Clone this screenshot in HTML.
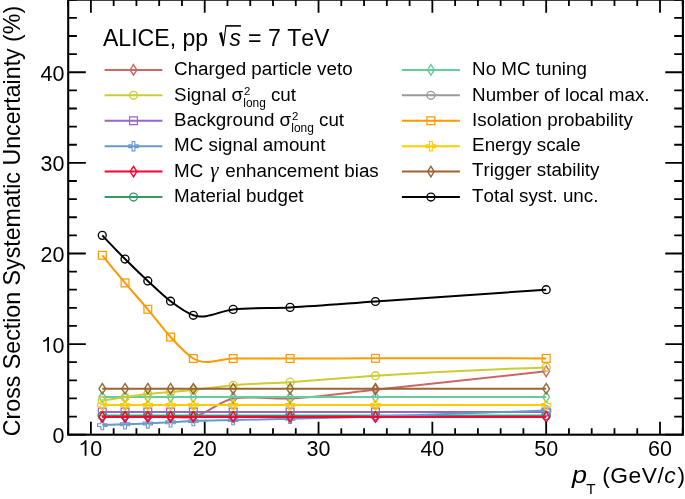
<!DOCTYPE html>
<html><head><meta charset="utf-8"><style>
html,body{margin:0;padding:0;background:#fff;}
svg{display:block;will-change:transform;font-family:"Liberation Sans",sans-serif;font-kerning:none;}
</style></head><body>
<svg width="685" height="499" viewBox="0 0 685 499">
<rect width="685" height="499" fill="#fff"/>
<path d="M102.28,415.67 C109.87,415.67 117.46,415.67 125.05,415.67 C132.63,415.67 140.22,415.67 147.81,415.67 C155.40,415.67 162.99,415.67 170.57,415.67 C178.16,415.67 185.75,415.67 193.34,415.67 C206.62,415.67 219.90,415.67 233.18,415.67 C252.15,415.67 271.12,415.67 290.09,415.67 C318.54,415.67 347.00,415.67 375.45,415.67 C432.36,415.67 489.27,415.67 546.18,415.67" fill="none" stroke="#999999" stroke-width="2"/>
<circle cx="102.28" cy="415.67" r="3.95" fill="none" stroke="#999999" stroke-width="1.35"/>
<circle cx="125.05" cy="415.67" r="3.95" fill="none" stroke="#999999" stroke-width="1.35"/>
<circle cx="147.81" cy="415.67" r="3.95" fill="none" stroke="#999999" stroke-width="1.35"/>
<circle cx="170.57" cy="415.67" r="3.95" fill="none" stroke="#999999" stroke-width="1.35"/>
<circle cx="193.34" cy="415.67" r="3.95" fill="none" stroke="#999999" stroke-width="1.35"/>
<circle cx="233.18" cy="415.67" r="3.95" fill="none" stroke="#999999" stroke-width="1.35"/>
<circle cx="290.09" cy="415.67" r="3.95" fill="none" stroke="#999999" stroke-width="1.35"/>
<circle cx="375.45" cy="415.67" r="3.95" fill="none" stroke="#999999" stroke-width="1.35"/>
<circle cx="546.18" cy="415.67" r="3.95" fill="none" stroke="#999999" stroke-width="1.35"/>
<path d="M102.28,416.90 C109.87,416.90 117.46,416.90 125.05,416.90 C132.63,416.90 140.22,416.90 147.81,416.90 C155.40,416.90 162.99,416.90 170.57,416.90 C178.16,416.90 185.75,418.17 193.34,416.90 C206.62,414.66 219.90,400.57 233.18,398.46 C252.15,395.44 271.12,399.22 290.09,398.46 C318.54,397.31 347.00,392.79 375.45,389.85 C432.36,383.96 489.27,377.77 546.18,371.27" fill="none" stroke="#cc6666" stroke-width="2"/>
<path d="M102.28,411.60 L105.63,416.90 L102.28,422.20 L98.93,416.90 Z" fill="none" stroke="#cc6666" stroke-width="1.4"/>
<path d="M125.05,411.60 L128.40,416.90 L125.05,422.20 L121.70,416.90 Z" fill="none" stroke="#cc6666" stroke-width="1.4"/>
<path d="M147.81,411.60 L151.16,416.90 L147.81,422.20 L144.46,416.90 Z" fill="none" stroke="#cc6666" stroke-width="1.4"/>
<path d="M170.57,411.60 L173.92,416.90 L170.57,422.20 L167.22,416.90 Z" fill="none" stroke="#cc6666" stroke-width="1.4"/>
<path d="M193.34,411.60 L196.69,416.90 L193.34,422.20 L189.99,416.90 Z" fill="none" stroke="#cc6666" stroke-width="1.4"/>
<path d="M233.18,393.16 L236.53,398.46 L233.18,403.76 L229.83,398.46 Z" fill="none" stroke="#cc6666" stroke-width="1.4"/>
<path d="M290.09,393.16 L293.44,398.46 L290.09,403.76 L286.74,398.46 Z" fill="none" stroke="#cc6666" stroke-width="1.4"/>
<path d="M375.45,384.55 L378.80,389.85 L375.45,395.15 L372.10,389.85 Z" fill="none" stroke="#cc6666" stroke-width="1.4"/>
<path d="M546.18,365.97 L549.53,371.27 L546.18,376.57 L542.83,371.27 Z" fill="none" stroke="#cc6666" stroke-width="1.4"/>
<path d="M102.28,397.10 C109.87,397.10 117.46,397.10 125.05,397.10 C132.63,397.10 140.22,397.10 147.81,397.10 C155.40,397.10 162.99,397.10 170.57,397.10 C178.16,397.10 185.75,397.10 193.34,397.10 C206.62,397.10 219.90,397.10 233.18,397.10 C252.15,397.10 271.12,397.10 290.09,397.10 C318.54,397.10 347.00,397.10 375.45,397.10 C432.36,397.10 489.27,397.10 546.18,397.10" fill="none" stroke="#66cc99" stroke-width="2"/>
<path d="M102.28,391.80 L105.63,397.10 L102.28,402.40 L98.93,397.10 Z" fill="none" stroke="#66cc99" stroke-width="1.4"/>
<path d="M125.05,391.80 L128.40,397.10 L125.05,402.40 L121.70,397.10 Z" fill="none" stroke="#66cc99" stroke-width="1.4"/>
<path d="M147.81,391.80 L151.16,397.10 L147.81,402.40 L144.46,397.10 Z" fill="none" stroke="#66cc99" stroke-width="1.4"/>
<path d="M170.57,391.80 L173.92,397.10 L170.57,402.40 L167.22,397.10 Z" fill="none" stroke="#66cc99" stroke-width="1.4"/>
<path d="M193.34,391.80 L196.69,397.10 L193.34,402.40 L189.99,397.10 Z" fill="none" stroke="#66cc99" stroke-width="1.4"/>
<path d="M233.18,391.80 L236.53,397.10 L233.18,402.40 L229.83,397.10 Z" fill="none" stroke="#66cc99" stroke-width="1.4"/>
<path d="M290.09,391.80 L293.44,397.10 L290.09,402.40 L286.74,397.10 Z" fill="none" stroke="#66cc99" stroke-width="1.4"/>
<path d="M375.45,391.80 L378.80,397.10 L375.45,402.40 L372.10,397.10 Z" fill="none" stroke="#66cc99" stroke-width="1.4"/>
<path d="M546.18,391.80 L549.53,397.10 L546.18,402.40 L542.83,397.10 Z" fill="none" stroke="#66cc99" stroke-width="1.4"/>
<path d="M102.28,400.45 C109.87,399.36 117.46,398.27 125.05,397.19 C132.63,396.10 140.22,394.79 147.81,393.93 C155.40,393.06 162.99,392.69 170.57,392.02 C178.16,391.36 185.75,390.70 193.34,389.94 C206.62,388.60 219.90,386.53 233.18,385.32 C252.15,383.59 271.12,383.35 290.09,382.15 C318.54,380.34 347.00,377.61 375.45,375.71 C432.36,371.93 489.27,369.15 546.18,367.38" fill="none" stroke="#cccc33" stroke-width="2"/>
<circle cx="102.28" cy="400.45" r="3.95" fill="none" stroke="#cccc33" stroke-width="1.35"/>
<circle cx="125.05" cy="397.19" r="3.95" fill="none" stroke="#cccc33" stroke-width="1.35"/>
<circle cx="147.81" cy="393.93" r="3.95" fill="none" stroke="#cccc33" stroke-width="1.35"/>
<circle cx="170.57" cy="392.02" r="3.95" fill="none" stroke="#cccc33" stroke-width="1.35"/>
<circle cx="193.34" cy="389.94" r="3.95" fill="none" stroke="#cccc33" stroke-width="1.35"/>
<circle cx="233.18" cy="385.32" r="3.95" fill="none" stroke="#cccc33" stroke-width="1.35"/>
<circle cx="290.09" cy="382.15" r="3.95" fill="none" stroke="#cccc33" stroke-width="1.35"/>
<circle cx="375.45" cy="375.71" r="3.95" fill="none" stroke="#cccc33" stroke-width="1.35"/>
<circle cx="546.18" cy="367.38" r="3.95" fill="none" stroke="#cccc33" stroke-width="1.35"/>
<path d="M102.28,412.00 C109.87,412.00 117.46,412.00 125.05,412.00 C132.63,412.00 140.22,412.00 147.81,412.00 C155.40,412.00 162.99,412.00 170.57,412.00 C178.16,412.00 185.75,412.00 193.34,412.00 C206.62,412.00 219.90,412.00 233.18,412.00 C252.15,412.00 271.12,412.00 290.09,412.00 C318.54,412.00 347.00,412.00 375.45,412.00 C432.36,412.00 489.27,412.00 546.18,412.00" fill="none" stroke="#9966cc" stroke-width="2"/>
<rect x="98.38" y="408.10" width="7.8" height="7.8" fill="none" stroke="#9966cc" stroke-width="1.25"/>
<rect x="121.15" y="408.10" width="7.8" height="7.8" fill="none" stroke="#9966cc" stroke-width="1.25"/>
<rect x="143.91" y="408.10" width="7.8" height="7.8" fill="none" stroke="#9966cc" stroke-width="1.25"/>
<rect x="166.67" y="408.10" width="7.8" height="7.8" fill="none" stroke="#9966cc" stroke-width="1.25"/>
<rect x="189.44" y="408.10" width="7.8" height="7.8" fill="none" stroke="#9966cc" stroke-width="1.25"/>
<rect x="229.28" y="408.10" width="7.8" height="7.8" fill="none" stroke="#9966cc" stroke-width="1.25"/>
<rect x="286.19" y="408.10" width="7.8" height="7.8" fill="none" stroke="#9966cc" stroke-width="1.25"/>
<rect x="371.55" y="408.10" width="7.8" height="7.8" fill="none" stroke="#9966cc" stroke-width="1.25"/>
<rect x="542.28" y="408.10" width="7.8" height="7.8" fill="none" stroke="#9966cc" stroke-width="1.25"/>
<path d="M102.28,415.67 C109.87,415.67 117.46,415.67 125.05,415.67 C132.63,415.67 140.22,415.67 147.81,415.67 C155.40,415.67 162.99,415.67 170.57,415.67 C178.16,415.67 185.75,415.67 193.34,415.67 C206.62,415.67 219.90,415.67 233.18,415.67 C252.15,415.67 271.12,415.67 290.09,415.67 C318.54,415.67 347.00,415.67 375.45,415.67 C432.36,415.67 489.27,415.67 546.18,415.67" fill="none" stroke="#339966" stroke-width="2"/>
<circle cx="102.28" cy="415.67" r="3.95" fill="none" stroke="#339966" stroke-width="1.35"/>
<circle cx="125.05" cy="415.67" r="3.95" fill="none" stroke="#339966" stroke-width="1.35"/>
<circle cx="147.81" cy="415.67" r="3.95" fill="none" stroke="#339966" stroke-width="1.35"/>
<circle cx="170.57" cy="415.67" r="3.95" fill="none" stroke="#339966" stroke-width="1.35"/>
<circle cx="193.34" cy="415.67" r="3.95" fill="none" stroke="#339966" stroke-width="1.35"/>
<circle cx="233.18" cy="415.67" r="3.95" fill="none" stroke="#339966" stroke-width="1.35"/>
<circle cx="290.09" cy="415.67" r="3.95" fill="none" stroke="#339966" stroke-width="1.35"/>
<circle cx="375.45" cy="415.67" r="3.95" fill="none" stroke="#339966" stroke-width="1.35"/>
<circle cx="546.18" cy="415.67" r="3.95" fill="none" stroke="#339966" stroke-width="1.35"/>
<path d="M102.28,425.10 C109.87,424.82 117.46,424.55 125.05,424.28 C132.63,424.01 140.22,423.80 147.81,423.46 C155.40,423.13 162.99,422.68 170.57,422.29 C178.16,421.89 185.75,421.43 193.34,421.11 C206.62,420.55 219.90,420.43 233.18,420.11 C252.15,419.66 271.12,419.30 290.09,418.84 C318.54,418.16 347.00,417.41 375.45,416.58 C432.36,414.91 489.27,412.91 546.18,410.60" fill="none" stroke="#6699cc" stroke-width="2"/>
<path d="M100.88,420.40 L103.68,420.40 L103.68,423.70 L106.98,423.70 L106.98,426.50 L103.68,426.50 L103.68,429.80 L100.88,429.80 L100.88,426.50 L97.58,426.50 L97.58,423.70 L100.88,423.70 Z" fill="none" stroke="#6699cc" stroke-width="1.1"/>
<path d="M123.65,419.58 L126.45,419.58 L126.45,422.88 L129.75,422.88 L129.75,425.68 L126.45,425.68 L126.45,428.98 L123.65,428.98 L123.65,425.68 L120.35,425.68 L120.35,422.88 L123.65,422.88 Z" fill="none" stroke="#6699cc" stroke-width="1.1"/>
<path d="M146.41,418.76 L149.21,418.76 L149.21,422.06 L152.51,422.06 L152.51,424.86 L149.21,424.86 L149.21,428.16 L146.41,428.16 L146.41,424.86 L143.11,424.86 L143.11,422.06 L146.41,422.06 Z" fill="none" stroke="#6699cc" stroke-width="1.1"/>
<path d="M169.17,417.59 L171.97,417.59 L171.97,420.89 L175.27,420.89 L175.27,423.69 L171.97,423.69 L171.97,426.99 L169.17,426.99 L169.17,423.69 L165.87,423.69 L165.87,420.89 L169.17,420.89 Z" fill="none" stroke="#6699cc" stroke-width="1.1"/>
<path d="M191.94,416.41 L194.74,416.41 L194.74,419.71 L198.04,419.71 L198.04,422.51 L194.74,422.51 L194.74,425.81 L191.94,425.81 L191.94,422.51 L188.64,422.51 L188.64,419.71 L191.94,419.71 Z" fill="none" stroke="#6699cc" stroke-width="1.1"/>
<path d="M231.78,415.41 L234.58,415.41 L234.58,418.71 L237.88,418.71 L237.88,421.51 L234.58,421.51 L234.58,424.81 L231.78,424.81 L231.78,421.51 L228.48,421.51 L228.48,418.71 L231.78,418.71 Z" fill="none" stroke="#6699cc" stroke-width="1.1"/>
<path d="M288.69,414.14 L291.49,414.14 L291.49,417.44 L294.79,417.44 L294.79,420.24 L291.49,420.24 L291.49,423.54 L288.69,423.54 L288.69,420.24 L285.39,420.24 L285.39,417.44 L288.69,417.44 Z" fill="none" stroke="#6699cc" stroke-width="1.1"/>
<path d="M374.05,411.88 L376.85,411.88 L376.85,415.18 L380.15,415.18 L380.15,417.98 L376.85,417.98 L376.85,421.28 L374.05,421.28 L374.05,417.98 L370.75,417.98 L370.75,415.18 L374.05,415.18 Z" fill="none" stroke="#6699cc" stroke-width="1.1"/>
<path d="M544.78,405.90 L547.58,405.90 L547.58,409.20 L550.88,409.20 L550.88,412.00 L547.58,412.00 L547.58,415.30 L544.78,415.30 L544.78,412.00 L541.48,412.00 L541.48,409.20 L544.78,409.20 Z" fill="none" stroke="#6699cc" stroke-width="1.1"/>
<path d="M102.28,416.90 C109.87,416.90 117.46,416.90 125.05,416.90 C132.63,416.90 140.22,416.90 147.81,416.90 C155.40,416.90 162.99,416.90 170.57,416.90 C178.16,416.90 185.75,416.90 193.34,416.90 C206.62,416.90 219.90,416.90 233.18,416.90 C252.15,416.90 271.12,416.90 290.09,416.90 C318.54,416.90 347.00,416.90 375.45,416.90 C432.36,416.90 489.27,416.90 546.18,416.90" fill="none" stroke="#ff0033" stroke-width="2"/>
<path d="M102.28,411.60 L105.63,416.90 L102.28,422.20 L98.93,416.90 Z" fill="none" stroke="#ff0033" stroke-width="1.4"/>
<path d="M125.05,411.60 L128.40,416.90 L125.05,422.20 L121.70,416.90 Z" fill="none" stroke="#ff0033" stroke-width="1.4"/>
<path d="M147.81,411.60 L151.16,416.90 L147.81,422.20 L144.46,416.90 Z" fill="none" stroke="#ff0033" stroke-width="1.4"/>
<path d="M170.57,411.60 L173.92,416.90 L170.57,422.20 L167.22,416.90 Z" fill="none" stroke="#ff0033" stroke-width="1.4"/>
<path d="M193.34,411.60 L196.69,416.90 L193.34,422.20 L189.99,416.90 Z" fill="none" stroke="#ff0033" stroke-width="1.4"/>
<path d="M233.18,411.60 L236.53,416.90 L233.18,422.20 L229.83,416.90 Z" fill="none" stroke="#ff0033" stroke-width="1.4"/>
<path d="M290.09,411.60 L293.44,416.90 L290.09,422.20 L286.74,416.90 Z" fill="none" stroke="#ff0033" stroke-width="1.4"/>
<path d="M375.45,411.60 L378.80,416.90 L375.45,422.20 L372.10,416.90 Z" fill="none" stroke="#ff0033" stroke-width="1.4"/>
<path d="M546.18,411.60 L549.53,416.90 L546.18,422.20 L542.83,416.90 Z" fill="none" stroke="#ff0033" stroke-width="1.4"/>
<path d="M102.28,255.29 C109.87,264.72 117.46,273.93 125.05,282.93 C132.63,291.93 140.22,300.28 147.81,309.30 C155.40,318.31 162.99,328.82 170.57,337.02 C178.16,345.22 185.75,353.94 193.34,358.50 C206.62,366.47 219.90,358.50 233.18,358.50 C252.15,358.50 271.12,358.51 290.09,358.50 C318.54,358.47 347.00,358.35 375.45,358.32 C432.36,358.25 489.27,358.28 546.18,358.41" fill="none" stroke="#ff9900" stroke-width="2"/>
<rect x="98.38" y="251.39" width="7.8" height="7.8" fill="none" stroke="#ff9900" stroke-width="1.25"/>
<rect x="121.15" y="279.03" width="7.8" height="7.8" fill="none" stroke="#ff9900" stroke-width="1.25"/>
<rect x="143.91" y="305.40" width="7.8" height="7.8" fill="none" stroke="#ff9900" stroke-width="1.25"/>
<rect x="166.67" y="333.12" width="7.8" height="7.8" fill="none" stroke="#ff9900" stroke-width="1.25"/>
<rect x="189.44" y="354.60" width="7.8" height="7.8" fill="none" stroke="#ff9900" stroke-width="1.25"/>
<rect x="229.28" y="354.60" width="7.8" height="7.8" fill="none" stroke="#ff9900" stroke-width="1.25"/>
<rect x="286.19" y="354.60" width="7.8" height="7.8" fill="none" stroke="#ff9900" stroke-width="1.25"/>
<rect x="371.55" y="354.42" width="7.8" height="7.8" fill="none" stroke="#ff9900" stroke-width="1.25"/>
<rect x="542.28" y="354.51" width="7.8" height="7.8" fill="none" stroke="#ff9900" stroke-width="1.25"/>
<path d="M102.28,404.89 C109.87,404.89 117.46,404.89 125.05,404.89 C132.63,404.89 140.22,404.89 147.81,404.89 C155.40,404.89 162.99,404.89 170.57,404.89 C178.16,404.89 185.75,404.89 193.34,404.89 C206.62,404.89 219.90,404.89 233.18,404.89 C252.15,404.89 271.12,404.89 290.09,404.89 C318.54,404.89 347.00,404.89 375.45,404.89 C432.36,404.89 489.27,404.89 546.18,404.89" fill="none" stroke="#ffcc00" stroke-width="2"/>
<path d="M100.88,400.19 L103.68,400.19 L103.68,403.49 L106.98,403.49 L106.98,406.29 L103.68,406.29 L103.68,409.59 L100.88,409.59 L100.88,406.29 L97.58,406.29 L97.58,403.49 L100.88,403.49 Z" fill="none" stroke="#ffcc00" stroke-width="1.1"/>
<path d="M123.65,400.19 L126.45,400.19 L126.45,403.49 L129.75,403.49 L129.75,406.29 L126.45,406.29 L126.45,409.59 L123.65,409.59 L123.65,406.29 L120.35,406.29 L120.35,403.49 L123.65,403.49 Z" fill="none" stroke="#ffcc00" stroke-width="1.1"/>
<path d="M146.41,400.19 L149.21,400.19 L149.21,403.49 L152.51,403.49 L152.51,406.29 L149.21,406.29 L149.21,409.59 L146.41,409.59 L146.41,406.29 L143.11,406.29 L143.11,403.49 L146.41,403.49 Z" fill="none" stroke="#ffcc00" stroke-width="1.1"/>
<path d="M169.17,400.19 L171.97,400.19 L171.97,403.49 L175.27,403.49 L175.27,406.29 L171.97,406.29 L171.97,409.59 L169.17,409.59 L169.17,406.29 L165.87,406.29 L165.87,403.49 L169.17,403.49 Z" fill="none" stroke="#ffcc00" stroke-width="1.1"/>
<path d="M191.94,400.19 L194.74,400.19 L194.74,403.49 L198.04,403.49 L198.04,406.29 L194.74,406.29 L194.74,409.59 L191.94,409.59 L191.94,406.29 L188.64,406.29 L188.64,403.49 L191.94,403.49 Z" fill="none" stroke="#ffcc00" stroke-width="1.1"/>
<path d="M231.78,400.19 L234.58,400.19 L234.58,403.49 L237.88,403.49 L237.88,406.29 L234.58,406.29 L234.58,409.59 L231.78,409.59 L231.78,406.29 L228.48,406.29 L228.48,403.49 L231.78,403.49 Z" fill="none" stroke="#ffcc00" stroke-width="1.1"/>
<path d="M288.69,400.19 L291.49,400.19 L291.49,403.49 L294.79,403.49 L294.79,406.29 L291.49,406.29 L291.49,409.59 L288.69,409.59 L288.69,406.29 L285.39,406.29 L285.39,403.49 L288.69,403.49 Z" fill="none" stroke="#ffcc00" stroke-width="1.1"/>
<path d="M374.05,400.19 L376.85,400.19 L376.85,403.49 L380.15,403.49 L380.15,406.29 L376.85,406.29 L376.85,409.59 L374.05,409.59 L374.05,406.29 L370.75,406.29 L370.75,403.49 L374.05,403.49 Z" fill="none" stroke="#ffcc00" stroke-width="1.1"/>
<path d="M544.78,400.19 L547.58,400.19 L547.58,403.49 L550.88,403.49 L550.88,406.29 L547.58,406.29 L547.58,409.59 L544.78,409.59 L544.78,406.29 L541.48,406.29 L541.48,403.49 L544.78,403.49 Z" fill="none" stroke="#ffcc00" stroke-width="1.1"/>
<path d="M102.28,388.76 C109.87,388.76 117.46,388.76 125.05,388.76 C132.63,388.76 140.22,388.76 147.81,388.76 C155.40,388.76 162.99,388.76 170.57,388.76 C178.16,388.76 185.75,388.76 193.34,388.76 C206.62,388.76 219.90,388.76 233.18,388.76 C252.15,388.76 271.12,388.76 290.09,388.76 C318.54,388.76 347.00,388.76 375.45,388.76 C432.36,388.76 489.27,388.76 546.18,388.76" fill="none" stroke="#996633" stroke-width="2"/>
<path d="M102.28,383.46 L105.63,388.76 L102.28,394.06 L98.93,388.76 Z" fill="none" stroke="#996633" stroke-width="1.4"/>
<path d="M125.05,383.46 L128.40,388.76 L125.05,394.06 L121.70,388.76 Z" fill="none" stroke="#996633" stroke-width="1.4"/>
<path d="M147.81,383.46 L151.16,388.76 L147.81,394.06 L144.46,388.76 Z" fill="none" stroke="#996633" stroke-width="1.4"/>
<path d="M170.57,383.46 L173.92,388.76 L170.57,394.06 L167.22,388.76 Z" fill="none" stroke="#996633" stroke-width="1.4"/>
<path d="M193.34,383.46 L196.69,388.76 L193.34,394.06 L189.99,388.76 Z" fill="none" stroke="#996633" stroke-width="1.4"/>
<path d="M233.18,383.46 L236.53,388.76 L233.18,394.06 L229.83,388.76 Z" fill="none" stroke="#996633" stroke-width="1.4"/>
<path d="M290.09,383.46 L293.44,388.76 L290.09,394.06 L286.74,388.76 Z" fill="none" stroke="#996633" stroke-width="1.4"/>
<path d="M375.45,383.46 L378.80,388.76 L375.45,394.06 L372.10,388.76 Z" fill="none" stroke="#996633" stroke-width="1.4"/>
<path d="M546.18,383.46 L549.53,388.76 L546.18,394.06 L542.83,388.76 Z" fill="none" stroke="#996633" stroke-width="1.4"/>
<path d="M102.28,235.36 C109.87,243.53 117.46,251.41 125.05,259.01 C132.63,266.60 140.22,273.90 147.81,280.93 C155.40,287.97 162.99,295.51 170.57,301.23 C178.16,306.96 185.75,312.70 193.34,315.28 C206.62,319.78 219.90,310.73 233.18,309.39 C252.15,307.46 271.12,308.32 290.09,307.39 C318.54,306.01 347.00,303.47 375.45,301.50 C432.36,297.58 489.27,293.65 546.18,289.72" fill="none" stroke="#000000" stroke-width="2"/>
<circle cx="102.28" cy="235.36" r="3.95" fill="none" stroke="#000000" stroke-width="1.35"/>
<circle cx="125.05" cy="259.01" r="3.95" fill="none" stroke="#000000" stroke-width="1.35"/>
<circle cx="147.81" cy="280.93" r="3.95" fill="none" stroke="#000000" stroke-width="1.35"/>
<circle cx="170.57" cy="301.23" r="3.95" fill="none" stroke="#000000" stroke-width="1.35"/>
<circle cx="193.34" cy="315.28" r="3.95" fill="none" stroke="#000000" stroke-width="1.35"/>
<circle cx="233.18" cy="309.39" r="3.95" fill="none" stroke="#000000" stroke-width="1.35"/>
<circle cx="290.09" cy="307.39" r="3.95" fill="none" stroke="#000000" stroke-width="1.35"/>
<circle cx="375.45" cy="301.50" r="3.95" fill="none" stroke="#000000" stroke-width="1.35"/>
<circle cx="546.18" cy="289.72" r="3.95" fill="none" stroke="#000000" stroke-width="1.35"/>
<rect x="68.2" y="-0.3" width="614.7" height="435.0" fill="none" stroke="#000" stroke-width="2.1"/>
<path d="M68.14,434.70V428.30 M68.14,-0.30V6.10 M90.90,434.70V421.70 M90.90,-0.30V12.70 M113.66,434.70V428.30 M113.66,-0.30V6.10 M136.43,434.70V428.30 M136.43,-0.30V6.10 M159.19,434.70V428.30 M159.19,-0.30V6.10 M181.96,434.70V428.30 M181.96,-0.30V6.10 M204.72,434.70V421.70 M204.72,-0.30V12.70 M227.48,434.70V428.30 M227.48,-0.30V6.10 M250.25,434.70V428.30 M250.25,-0.30V6.10 M273.01,434.70V428.30 M273.01,-0.30V6.10 M295.78,434.70V428.30 M295.78,-0.30V6.10 M318.54,434.70V421.70 M318.54,-0.30V12.70 M341.30,434.70V428.30 M341.30,-0.30V6.10 M364.07,434.70V428.30 M364.07,-0.30V6.10 M386.83,434.70V428.30 M386.83,-0.30V6.10 M409.60,434.70V428.30 M409.60,-0.30V6.10 M432.36,434.70V421.70 M432.36,-0.30V12.70 M455.12,434.70V428.30 M455.12,-0.30V6.10 M477.89,434.70V428.30 M477.89,-0.30V6.10 M500.65,434.70V428.30 M500.65,-0.30V6.10 M523.42,434.70V428.30 M523.42,-0.30V6.10 M546.18,434.70V421.70 M546.18,-0.30V12.70 M568.94,434.70V428.30 M568.94,-0.30V6.10 M591.71,434.70V428.30 M591.71,-0.30V6.10 M614.47,434.70V428.30 M614.47,-0.30V6.10 M637.24,434.70V428.30 M637.24,-0.30V6.10 M660.00,434.70V421.70 M660.00,-0.30V12.70 M682.76,434.70V428.30 M682.76,-0.30V6.10 M68.20,434.70H85.80 M682.90,434.70H665.30 M68.20,416.58H76.90 M682.90,416.58H674.20 M68.20,398.46H76.90 M682.90,398.46H674.20 M68.20,380.33H76.90 M682.90,380.33H674.20 M68.20,362.21H76.90 M682.90,362.21H674.20 M68.20,344.09H85.80 M682.90,344.09H665.30 M68.20,325.97H76.90 M682.90,325.97H674.20 M68.20,307.85H76.90 M682.90,307.85H674.20 M68.20,289.72H76.90 M682.90,289.72H674.20 M68.20,271.60H76.90 M682.90,271.60H674.20 M68.20,253.48H85.80 M682.90,253.48H665.30 M68.20,235.36H76.90 M682.90,235.36H674.20 M68.20,217.24H76.90 M682.90,217.24H674.20 M68.20,199.11H76.90 M682.90,199.11H674.20 M68.20,180.99H76.90 M682.90,180.99H674.20 M68.20,162.87H85.80 M682.90,162.87H665.30 M68.20,144.75H76.90 M682.90,144.75H674.20 M68.20,126.63H76.90 M682.90,126.63H674.20 M68.20,108.50H76.90 M682.90,108.50H674.20 M68.20,90.38H76.90 M682.90,90.38H674.20 M68.20,72.26H85.80 M682.90,72.26H665.30 M68.20,54.14H76.90 M682.90,54.14H674.20 M68.20,36.02H76.90 M682.90,36.02H674.20 M68.20,17.89H76.90 M682.90,17.89H674.20 M68.20,-0.23H76.90 M682.90,-0.23H674.20" stroke="#000" stroke-width="1.8" fill="none"/>
<text transform="translate(64.50,443.20) scale(1.000,1.050)" font-size="21.50" text-anchor="end">0</text>
<text transform="translate(64.50,352.59) scale(1.000,1.050)" font-size="21.50" text-anchor="end">0</text>
<path d="M49.00,336.99 V351.84 H47.20 V339.99 C46.30,340.89 44.90,341.59 43.20,341.99 V340.29 C45.20,339.99 46.70,338.99 47.40,336.99 Z" fill="#000"/>
<text transform="translate(64.50,261.98) scale(1.000,1.050)" font-size="21.50" text-anchor="end">20</text>
<text transform="translate(64.50,171.37) scale(1.000,1.050)" font-size="21.50" text-anchor="end">30</text>
<text transform="translate(64.50,80.76) scale(1.000,1.050)" font-size="21.50" text-anchor="end">40</text>
<text transform="translate(90.30,456.00) scale(1.000,1.050)" font-size="21.50">0</text>
<path d="M86.45,440.35 V455.75 H84.65 V443.35 C83.75,444.25 82.35,444.95 80.65,445.35 V443.65 C82.65,443.35 84.15,442.35 84.85,440.35 Z" fill="#000"/>
<text transform="translate(204.72,456.00) scale(1.000,1.050)" font-size="21.50" text-anchor="middle">20</text>
<text transform="translate(318.54,456.00) scale(1.000,1.050)" font-size="21.50" text-anchor="middle">30</text>
<text transform="translate(432.36,456.00) scale(1.000,1.050)" font-size="21.50" text-anchor="middle">40</text>
<text transform="translate(546.18,456.00) scale(1.000,1.050)" font-size="21.50" text-anchor="middle">50</text>
<text transform="translate(660.00,456.00) scale(1.000,1.050)" font-size="21.50" text-anchor="middle">60</text>
<text transform="translate(572.0,482.5) scale(1.1,1)" font-size="24.5" font-style="italic">p</text>
<text x="586.2" y="493.8" font-size="15.2">T</text>
<text x="602.3" y="482.5" font-size="22.8" letter-spacing="0.45">(GeV</text>
<text x="657.4" y="482.5" font-size="22.8">/</text>
<text x="664.2" y="482.5" font-size="22.8" font-style="italic">c</text>
<text x="677.5" y="482.5" font-size="22.8">)</text>
<text transform="translate(20.0,436.2) rotate(-90)" font-size="23.2">Cross Section Systematic Uncertainty (%)</text>
<text transform="translate(102.90,45.90) scale(1.000,1.050)" font-size="23.10">ALICE, pp</text>
<path d="M219.1,32.9 L221.8,31.9 L224.1,42.8 L223.7,46.3 L222.7,46.3 Z" fill="#000"/>
<path d="M223.3,46.0 L225.9,26.2" fill="none" stroke="#000" stroke-width="1.1"/>
<path d="M225.4,25.9 H240.9" fill="none" stroke="#000" stroke-width="1.6"/>
<text transform="translate(229.50,45.90) scale(1.000,1.050)" font-size="22.80" font-style="italic">s</text>
<text transform="translate(248.00,45.90) scale(1.000,1.050)" font-size="23.10">= 7 TeV</text>
<path d="M104.60,69.90H162.40" stroke="#cc6666" stroke-width="2"/>
<path d="M133.50,64.60 L136.85,69.90 L133.50,75.20 L130.15,69.90 Z" fill="none" stroke="#cc6666" stroke-width="1.4"/>
<text transform="translate(174.10,74.70) scale(1.000,1.000)" font-size="18.80">Charged particle veto</text>
<path d="M104.60,95.33H162.40" stroke="#cccc33" stroke-width="2"/>
<circle cx="133.50" cy="95.33" r="3.95" fill="none" stroke="#cccc33" stroke-width="1.35"/>
<text transform="translate(174.10,100.93) scale(1.000,1.000)" font-size="18.80">Signal σ<tspan font-size="11.4" dx="0.8" dy="-6.25">2</tspan><tspan font-size="11.9" dx="-7.0" dy="11.9">long</tspan><tspan dy="-5.65"> cut</tspan></text>
<path d="M104.60,120.76H162.40" stroke="#9966cc" stroke-width="2"/>
<rect x="129.60" y="116.86" width="7.8" height="7.8" fill="none" stroke="#9966cc" stroke-width="1.25"/>
<text transform="translate(174.10,126.06) scale(1.000,1.000)" font-size="18.80">Background σ<tspan font-size="11.4" dx="0.8" dy="-6.25">2</tspan><tspan font-size="11.9" dx="-7.0" dy="11.9">long</tspan><tspan dy="-5.65"> cut</tspan></text>
<path d="M104.60,146.19H162.40" stroke="#6699cc" stroke-width="2"/>
<path d="M132.10,141.49 L134.90,141.49 L134.90,144.79 L138.20,144.79 L138.20,147.59 L134.90,147.59 L134.90,150.89 L132.10,150.89 L132.10,147.59 L128.80,147.59 L128.80,144.79 L132.10,144.79 Z" fill="none" stroke="#6699cc" stroke-width="1.1"/>
<text transform="translate(174.10,150.79) scale(1.000,1.000)" font-size="18.80">MC signal amount</text>
<path d="M104.60,171.62H162.40" stroke="#ff0033" stroke-width="2"/>
<path d="M133.50,166.32 L136.85,171.62 L133.50,176.92 L130.15,171.62 Z" fill="none" stroke="#ff0033" stroke-width="1.4"/>
<text transform="translate(174.10,177.02) scale(1.000,1.000)" font-size="18.80">MC <tspan dx="1.6" font-family="Liberation Serif" font-style="italic" font-size="21">γ</tspan><tspan dx="1.6"> enhancement bias</tspan></text>
<path d="M104.60,197.05H162.40" stroke="#339966" stroke-width="2"/>
<circle cx="133.50" cy="197.05" r="3.95" fill="none" stroke="#339966" stroke-width="1.35"/>
<text transform="translate(174.10,201.75) scale(1.000,1.000)" font-size="18.80">Material budget</text>
<path d="M401.90,69.90H459.90" stroke="#66cc99" stroke-width="2"/>
<path d="M430.90,64.60 L434.25,69.90 L430.90,75.20 L427.55,69.90 Z" fill="none" stroke="#66cc99" stroke-width="1.4"/>
<text transform="translate(472.10,74.75) scale(1.000,1.000)" font-size="18.80">No MC tuning</text>
<path d="M401.90,95.33H459.90" stroke="#999999" stroke-width="2"/>
<circle cx="430.90" cy="95.33" r="3.95" fill="none" stroke="#999999" stroke-width="1.35"/>
<text transform="translate(472.10,100.98) scale(1.000,1.000)" font-size="18.80">Number of local max.</text>
<path d="M401.90,120.76H459.90" stroke="#ff9900" stroke-width="2"/>
<rect x="427.00" y="116.86" width="7.8" height="7.8" fill="none" stroke="#ff9900" stroke-width="1.25"/>
<text transform="translate(472.10,126.26) scale(1.000,1.000)" font-size="18.80">Isolation probability</text>
<path d="M401.90,146.19H459.90" stroke="#ffcc00" stroke-width="2"/>
<path d="M429.50,141.49 L432.30,141.49 L432.30,144.79 L435.60,144.79 L435.60,147.59 L432.30,147.59 L432.30,150.89 L429.50,150.89 L429.50,147.59 L426.20,147.59 L426.20,144.79 L429.50,144.79 Z" fill="none" stroke="#ffcc00" stroke-width="1.1"/>
<text transform="translate(472.10,151.04) scale(1.000,1.000)" font-size="18.80">Energy scale</text>
<path d="M401.90,171.62H459.90" stroke="#996633" stroke-width="2"/>
<path d="M430.90,166.32 L434.25,171.62 L430.90,176.92 L427.55,171.62 Z" fill="none" stroke="#996633" stroke-width="1.4"/>
<text transform="translate(472.10,176.47) scale(1.000,1.000)" font-size="18.80">Trigger stability</text>
<path d="M401.90,197.05H459.90" stroke="#000000" stroke-width="2"/>
<circle cx="430.90" cy="197.05" r="3.95" fill="none" stroke="#000000" stroke-width="1.35"/>
<text transform="translate(472.10,201.85) scale(1.000,1.000)" font-size="18.80">Total syst. unc.</text>
</svg></body></html>
